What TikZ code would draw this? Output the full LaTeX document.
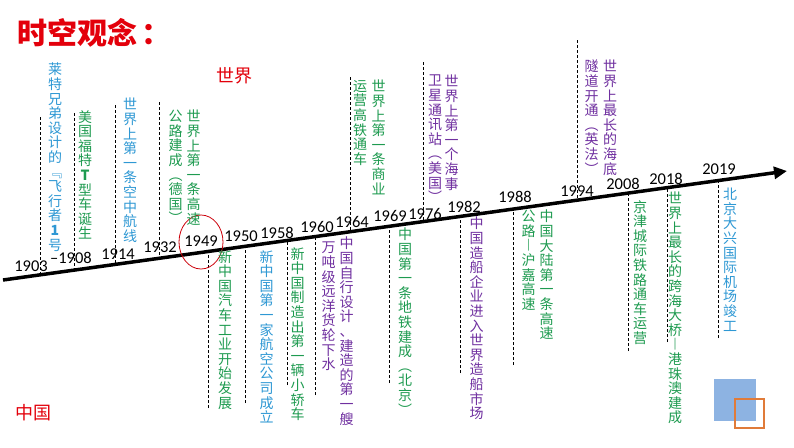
\documentclass[tikz,border=0pt]{standalone}
\usepackage{fontspec}
\setmainfont{Carlito}
\newfontfamily\cjk{Noto Sans CJK SC}
\usetikzlibrary{arrows.meta}
\definecolor{hong}{HTML}{E3000B}
\definecolor{lan}{HTML}{2E98D4}
\definecolor{lv}{HTML}{1E9B50}
\definecolor{zi}{HTML}{7030A0}
\definecolor{qianlan}{HTML}{8DB3E2}
\definecolor{cheng}{HTML}{E07B39}

% stack the characters of #1 one under the other
\makeatletter
\def\vt#1{\vt@a#1\@nil}
\def\vt@a#1#2\@nil{#1\ifx\relax#2\relax\expandafter\@gobble\else\expandafter\@firstofone\fi{\\\vt@a#2\@nil}}
\makeatother

\begin{document}
\begin{tikzpicture}[x=1pt, y=-1pt,
  evt/.style={font=\cjk\fontsize{14}{14.6}\selectfont, text=#1, align=center,
              anchor=north, inner sep=0pt},
  yr/.style={font=\fontsize{16.5}{18}\selectfont, inner sep=0pt},
  tick/.style={densely dashed, line width=0.7pt},
  big/.style={font=\cjk\fontsize{18}{20}\selectfont, text=hong, inner sep=0pt}
]
  \fill[white] (0,0) rectangle (794,447);
  \useasboundingbox (0,0) rectangle (794,447);

  \node[font=\cjk\bfseries\fontsize{30}{32}\selectfont, text=hong, anchor=west,
        inner sep=0pt] (title) at (17,33) {时空观念\hspace{4pt}：};
  \node[big] (shijie) at (234,76) {世界};
  \node[big] (zhongguo) at (33,413) {中国};

  % dashed ticks: free end and foot on the time line
  \foreach \n/\x/\y in {1903/40/117, 1908/74/113, 1914/115/105, 1932/159/102,
      1964/350/77, 1976/423/62, 1994/577/40, 1949/208/408, 1950/245/403,
      1958/287/385, 1960/315/395, 1969/389/383, 1982/460/373, 1988/513/365,
      2008/628/351, 2018/667/342, 2019/718/338}{
    \coordinate (end\n) at (\x,\y);
    \coordinate (base\n) at (\x,{280-(\x-3)*0.139});
    \draw[tick] (end\n) -- (base\n);
  }

  % time line
  \coordinate (t0) at (3,280);
  \coordinate (t1) at (787,171);
  \draw[line width=3.5pt, -{Triangle[length=13pt,width=12pt]}] (t0) -- (t1);

  % years
  \foreach \n/\x/\y in {1903/31/266, 1914/118/254, 1932/160/247, 1949/201/241,
      1950/241/236, 1958/277/233, 1960/317/227, 1964/352/222, 1969/390/216,
      1976/425/214, 1982/464/207, 1988/515/197, 1994/577/191, 2008/623/184,
      2018/666/179, 2019/719/169}
    \node[yr] (y\n) at (\x,\y) {\n};
  \node[yr] (y1908) at (71,258) {–1908};

  \draw[hong!90!black, line width=0.8pt] (201,242) ellipse [x radius=22, y radius=27];

  % world
  \node[evt=lan] (w1903) at (55,63) {\vt{莱特兄弟设计的﹃飞行者{{\bfseries 1}}号}};
  \node[evt=lv] (w1908) at (85,110) {\vt{美国福特{{\bfseries T}}型车诞生}};
  \node[evt=lan] (w1914) at (130,98) {\vt{世界上第一条空中航线}};
  \node[evt=lv] (w1932) at (193.5,110) {\vt{世界上第一条高速}};
  \node[evt=lv] (w1932b) at (175.5,110) {\vt{公路建成︵德国︶}};
  \node[evt=lv] (w1964) at (378.5,80) {\vt{世界上第一条商业}};
  \node[evt=lv] (w1964b) at (360,80) {\vt{运营高铁通车}};
  \node[evt=zi] (w1976) at (451.5,75) {\vt{世界上第一个海事}};
  \node[evt=zi] (w1976b) at (435,75) {\vt{卫星通讯站︵美国︶}};
  \node[evt=zi] (w1994) at (610,60) {\vt{世界上最长的海底}};
  \node[evt=zi] (w1994b) at (591.5,60) {\vt{隧道开通︵英法︶}};

  % China
  \node[evt=lv] (c1949) at (225,250) {\vt{新中国汽车工业开始发展}};
  \node[evt=lan] (c1950) at (266.5,250) {\vt{新中国第一家航空公司成立}};
  \node[evt=lv] (c1958) at (297.5,247) {\vt{新中国制造出第一辆小轿车}};
  \node[evt=zi] (c1960) at (346.5,237) {\vt{中国自行设计、建造的第一艘}};
  \node[evt=zi] (c1960b) at (328.5,242) {\vt{万吨级远洋货轮下水}};
  \node[evt=lv] (c1969) at (405,228) {\vt{中国第一条地铁建成︵北京︶}};
  \node[evt=zi] (c1982) at (476.5,217) {\vt{中国造船企业进入世界造船市场}};
  \node[evt=lv] (c1988) at (546.5,210) {\vt{中国大陆第一条高速}};
  \node[evt=lv] (c1988b) at (528.5,210) {\vt{公路{{\bfseries ︱}}沪嘉高速}};
  \node[evt=lv] (c2008) at (640,200) {\vt{京津城际铁路通车运营}};
  \node[evt=lv] (c2018) at (675,192) {\vt{世界上最长的跨海大桥{{\bfseries ︱}}港珠澳建成}};
  \node[evt=lan] (c2019) at (730,188) {\vt{北京大兴国际机场竣工}};

  % corner marks
  \fill[qianlan] (714,379) rectangle (756,421);
  \draw[cheng, line width=2.5pt] (735,399) rectangle (764,428);
\end{tikzpicture}
\end{document}
